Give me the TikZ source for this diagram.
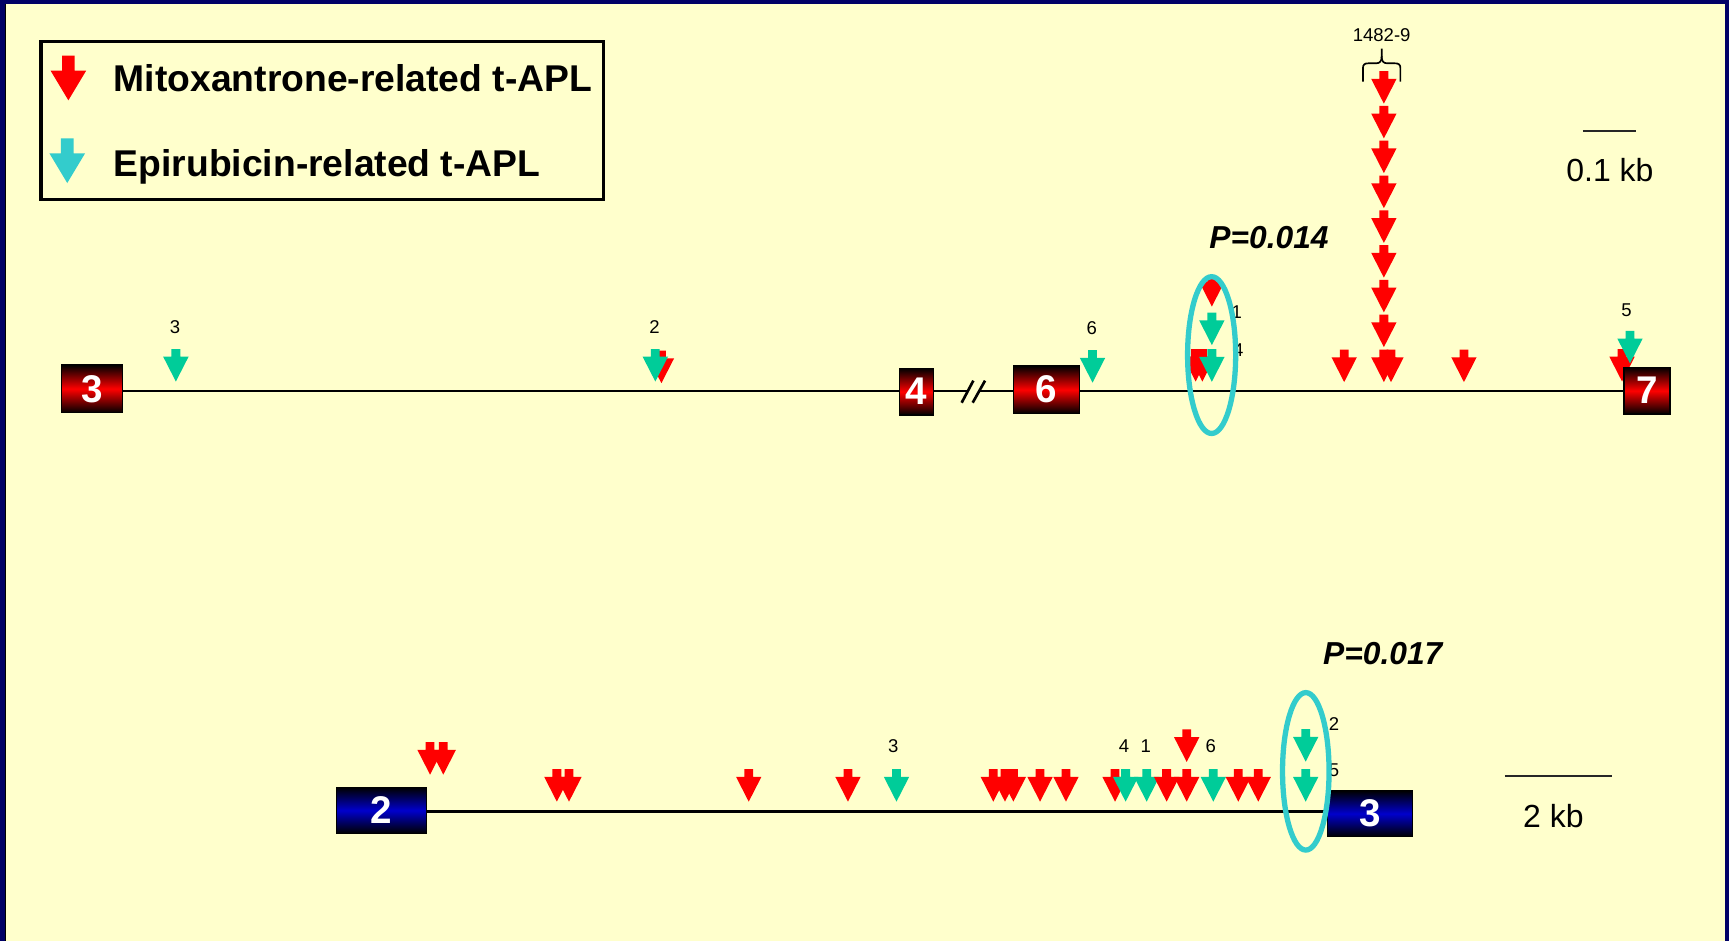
\documentclass[tikz,border=0pt]{standalone}
\usepackage{fontspec}
\setmainfont{Liberation Sans}
\usetikzlibrary{backgrounds}
\definecolor{mred}{HTML}{FF0000}
\definecolor{mgreen}{HTML}{00CC99}
\definecolor{mcyan}{HTML}{33CCCC}
\definecolor{bgyellow}{HTML}{FFFFCC}
\definecolor{navy}{HTML}{000066}
\definecolor{exblue}{HTML}{0000CC}
\tikzset{
  pics/mut/.style={code={\fill[#1] (0,0) -- (-11.5,-22.5) -- (-4,-22.5) -- (-4,-29.5) -- (4,-29.5) -- (4,-22.5) -- (11.5,-22.5) -- cycle;}},
  pics/legmut/.style={code={\fill[#1] (0,0) -- (-16.2,-27) -- (-5.7,-27) -- (-5.7,-40.5) -- (5.7,-40.5) -- (5.7,-27) -- (16.2,-27) -- cycle;}},
  exonred/.style={draw=black, line width=0.6pt, inner sep=0pt, text=white,
    font=\fontsize{17.5}{17.5}\selectfont\bfseries,
    top color=black, bottom color=black, middle color=mred},
  exonblue/.style={draw=black, line width=0.6pt, inner sep=0pt, text=white,
    font=\fontsize{17.5}{17.5}\selectfont\bfseries,
    top color=black, bottom color=black, middle color=exblue},
  numlbl/.style={inner sep=0pt, font=\fontsize{8.4}{8.4}\selectfont},
  legtxt/.style={inner sep=0pt, anchor=base west, font=\fontsize{16.9}{16.9}\selectfont\bfseries},
  pval/.style={inner sep=0pt, font=\fontsize{14.4}{14.4}\selectfont\bfseries\itshape},
  scaletxt/.style={inner sep=0pt, font=\fontsize{14.5}{14.5}\selectfont},
  track/.style={line width=1pt, black},
  scalebar/.style={line width=0.75pt, black!85},
  pcircle/.style={draw=mcyan, line width=2.4pt},
}
\begin{document}
\begin{tikzpicture}[x=0.5pt,y=-0.5pt]
\useasboundingbox (0,0) rectangle (1568,853);
% frame and page colour
\begin{scope}[on background layer]
  \fill[navy] (0,0) rectangle (1568,853);
  \fill[black] (4.2,3.5) rectangle (5.6,853);
  \fill[bgyellow] (5.6,3.5) rectangle (1564.5,853);
\end{scope}

% legend
\draw[line width=1.45pt] (37.2,37.5) rectangle (547.2,181);
\pic at (62,91) {legmut=mred};
\pic at (61,166) {legmut=mcyan};
\node[legtxt] (legM) at (102.8,83) {Mitoxantrone-related t-APL};
\node[legtxt] (legE) at (102.8,160) {Epirubicin-related t-APL};

% ---------- upper map: exons 3-7 ----------
\pic at (159.5,346) {mut=mgreen};
\pic at (599.8,347.5) {mut=mred};
\pic at (594.3,346) {mut=mgreen};
\pic at (990.8,347) {mut=mgreen};
\begin{scope}
  \clip (1098.8,322) ellipse [x radius=21.8, y radius=71.1];
  \pic at (1099,278) {mut=mred};
  \pic at (1084.3,346) {mut=mred};
  \pic at (1090.4,346) {mut=mred};
\end{scope}
\pic at (1099,313) {mut=mgreen};
\pic at (1099,346.2) {mut=mgreen};
\pic at (1219,346.5) {mut=mred};
\foreach \t in {94,125.5,157,188.8,220.3,251.8,283.3,314.8}
  \pic at (1255,\t) {mut=mred};
\pic at (1255,346.5) {mut=mred};
\pic at (1261.5,346.5) {mut=mred};
\pic at (1327.6,346.5) {mut=mred};
\pic at (1471,346) {mut=mred};
\pic at (1478.2,329.5) {mut=mgreen};

\node[exonred, minimum width=27.7pt, minimum height=21.6pt] (T3) at (83.6,352.6) {3};
\node[exonred, minimum width=15.4pt, minimum height=21.2pt] (T4) at (831,355.2) {4};
\node[exonred, minimum width=29.9pt, minimum height=21.4pt] (T6) at (948.9,353.4) {6};
\node[exonred, minimum width=20.85pt, minimum height=21.2pt] (T7) at (1493.7,354.3) {7};

\coordinate (ty) at (0,354.3);
\coordinate (brkL) at (876.5,354.3);
\coordinate (brkR) at (888.5,354.3);
\begin{scope}[on background layer]
  \draw[track] (T3 |- ty) -- (T4 |- ty) -- (brkL);
  \draw[track] (brkR) -- (T6 |- ty) -- (T7 |- ty);
\end{scope}
% intron break mark
\draw[line width=1.2pt] (872.1,365.2) -- (882.7,345.2);
\draw[line width=1.2pt] (882.1,365.2) -- (893.3,345.2);

\node[numlbl] (u3) at (158.7,296.8) {3};
\node[numlbl] (u2) at (593.5,296.8) {2};
\node[numlbl] (u6) at (990,297.7) {6};
\node[numlbl] (u1) at (1121.5,282.6) {1};
\node[numlbl] (u4) at (1123,317.4) {4};
\node[numlbl] (u5) at (1475,281) {5};
\node[numlbl] (clus) at (1253,31.7) {1482-9};
\draw[line width=0.75pt] (1236,74) -- (1236,62) .. controls (1236,58.5) and (1237.5,57.4) .. (1241,57.4)
  -- (1248,57.4) .. controls (1251.5,57.4) and (1253,55.5) .. (1253,51) -- (1253,44);
\draw[line width=0.75pt] (1270,74) -- (1270,62) .. controls (1270,58.5) and (1268.5,57.4) .. (1265,57.4)
  -- (1258,57.4) .. controls (1254.5,57.4) and (1253,55.5) .. (1253,51);

\draw[pcircle] (1098.8,322) ellipse [x radius=21.8, y radius=71.1];
\node[pval] (p1) at (1150.8,215.8) {P=0.014};

\coordinate (sbA1) at (1435.4,118.8);
\coordinate (sbA2) at (1483.3,118.8);
\draw[scalebar] (sbA1) -- (sbA2);
\node[scaletxt] (sA) at (1460,154) {0.1 kb};

% ---------- lower map: exons 2-3 ----------
\pic at (390,702.5) {mut=mred};
\pic at (402,702.5) {mut=mred};
\foreach \x/\c in {505/mred,516/mred,679/mred,769/mred,813/mgreen,900.8/mred,911.4/mred,919/mred,943.2/mred,966.7/mred,1011.2/mred,1020.8/mgreen,1039.9/mgreen,1058/mred,1076.2/mred,1100.3/mgreen,1123/mred,1141.1/mred,1184.1/mgreen}
  \pic at (\x,727) {mut=\c};
\pic at (1076.2,691) {mut=mred};
\pic at (1184.1,690.7) {mut=mgreen};

\node[exonblue, minimum width=40.65pt, minimum height=20.85pt] (B2) at (346,734.9) {2};
\node[exonblue, minimum width=38.5pt, minimum height=20.9pt] (B3) at (1242.5,737.9) {3};
\coordinate (by) at (0,736);
\begin{scope}[on background layer]
  \draw[track] (B2 |- by) -- (B3 |- by);
\end{scope}

\node[numlbl] (l3) at (810,677) {3};
\node[numlbl] (l4) at (1019.3,677) {4};
\node[numlbl] (l1) at (1039,677) {1};
\node[numlbl] (l6) at (1098,677) {6};
\node[numlbl] (l2) at (1209.8,656.6) {2};
\node[numlbl] (l5) at (1209.8,698.3) {5};

\draw[pcircle] (1184.2,699.5) ellipse [x radius=21.1, y radius=71.4];
\node[pval] (p2) at (1254,592.5) {P=0.017};

\coordinate (sbB1) at (1364.8,703.7);
\coordinate (sbB2) at (1462.1,703.7);
\draw[scalebar] (sbB1) -- (sbB2);
\node[scaletxt] (sB) at (1408.7,740) {2 kb};
\end{tikzpicture}
\end{document}
